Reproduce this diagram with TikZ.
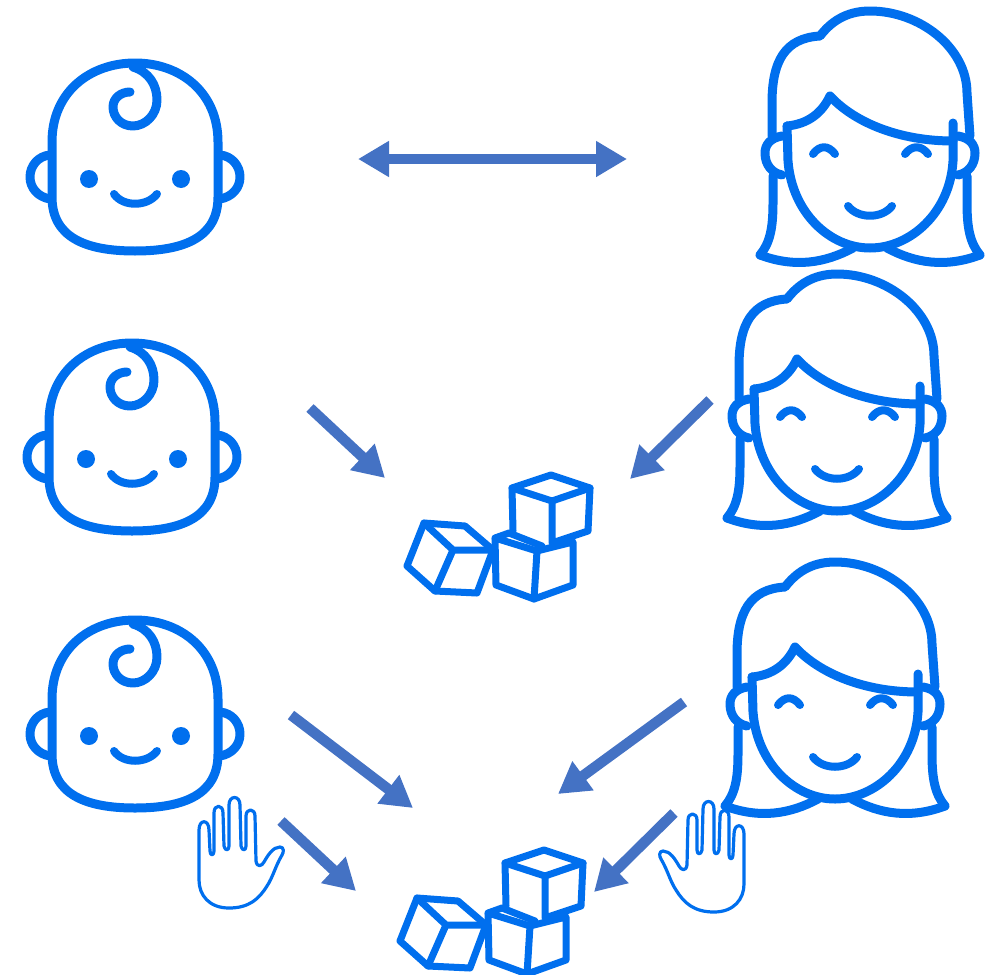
\documentclass[tikz,border=0pt]{standalone}
\usepackage{tikz}
\usetikzlibrary{arrows.meta}
\usepackage{xcolor}
\definecolor{azul}{HTML}{006FEE}
\definecolor{flecha}{HTML}{4472C4}
\tikzset{
  icon/.style={draw=azul,line width=9pt,line cap=round,line join=round},
  thin icon/.style={draw=azul,line width=3.2pt,line cap=round,line join=round},
  cube/.style={draw=azul,line width=7pt,line cap=round,line join=round},
  flow/.style={draw=flecha,line width=10.5pt,-{Triangle[length=31pt,width=34pt,fill=flecha]}},
  twoway/.style={draw=flecha,line width=10pt,{Triangle[length=31pt,width=34pt,fill=flecha]}-{Triangle[length=31pt,width=34pt,fill=flecha]}},
  baby/.pic={
    \draw[icon] (-83,-15) .. controls (-83,-65) and (-45,-94) .. (0,-94)
      .. controls (45,-94) and (83,-65) .. (83,-15) -- (83,40)
      .. controls (83,80) and (50,94) .. (0,94)
      .. controls (-50,94) and (-83,80) .. (-83,40) -- cycle;
    \draw[icon] (-2,-90) .. controls (14,-85) and (22,-72) .. (22,-57)
      .. controls (22,-42) and (10,-31) .. (-2,-31)
      .. controls (-14,-31) and (-22,-40) .. (-22,-50)
      .. controls (-22,-59) and (-14,-65) .. (-5,-65);
    \draw[icon] (-85,-2) .. controls (-97,-1) and (-105,9) .. (-105,20) .. controls (-105,31) and (-97,40) .. (-85,42);
    \draw[icon] (85,-2) .. controls (97,-1) and (105,9) .. (105,20) .. controls (105,31) and (97,40) .. (85,42);
    \fill[azul] (-46,22) circle (9) (46,22) circle (9);
    \draw[icon,line width=8pt] (-21,37) .. controls (-12,50) and (12,50) .. (22,37);
  },
  woman/.pic={
    \draw[icon] (-110,122) .. controls (-100,110) and (-97,95) .. (-97,70) -- (-97,43);
    \draw[icon] (-98,3) -- (-98,-30) .. controls (-98,-72) and (-85,-95) .. (-50,-97)
      .. controls (-40,-110) and (-25,-122) .. (0,-122)
      .. controls (50,-122) and (97,-85) .. (97,-40) -- (100,3);
    \draw[icon] (110,122) .. controls (100,110) and (97,95) .. (97,70) -- (97,43);
    \draw[icon] (-110,122) .. controls (-75,135) and (-45,130) .. (-17,115);
    \draw[icon] (110,122) .. controls (75,135) and (45,130) .. (17,115);
    \draw[icon] (-83,-7) .. controls (-62,-9) and (-48,-20) .. (-40,-37)
      .. controls (-15,-10) and (30,8) .. (83,8);
    \draw[icon] (-83,-7) -- (-82,28) .. controls (-78,80) and (-40,115) .. (0,115)
      .. controls (40,115) and (80,80) .. (83,28) -- (83,-10);
    \draw[icon] (-88,3) .. controls (-100,5) and (-105,12) .. (-105,20) .. controls (-105,32) and (-98,40) .. (-88,42);
    \draw[icon] (88,3) .. controls (100,5) and (105,12) .. (105,20) .. controls (105,32) and (98,40) .. (88,42);
    \draw[icon,line width=8pt] (-57,21) .. controls (-50,12) and (-42,12) .. (-35,21);
    \draw[icon,line width=8pt] (35,21) .. controls (42,12) and (51,12) .. (58,21);
    \draw[icon,line width=8pt] (-22,73) .. controls (-12,86) and (12,86) .. (22,73);
  },
  blocks/.pic={
    % upper cube
    \draw[cube] (12,-45) -- (51,-58) -- (90,-45) -- (52,-32) -- cycle;
    \draw[cube] (12,-45) -- (13,-2) (90,-45) -- (88,-2) -- (52,10) -- (52,-32);
    % lower cube
    \draw[cube] (-5,5) -- (37,18) -- (73,9) -- (73,52) -- (34,66) -- (-4,52) -- cycle;
    \draw[cube] (37,18) -- (34,66) (-5,5) -- (9,0) -- (42,13);
    % tilted cube
    \draw[cube] (-76,-10) -- (-35,-7) -- (-7,17) -- (-23,60) -- (-65,58) -- (-93,33) -- cycle;
    \draw[cube] (-76,-10) -- (-47,17) -- (-7,17) (-47,17) -- (-65,58);
  },
  hand/.pic={
    \draw[thin icon] (-38,27) -- (-38,-23) .. controls (-38,-34) and (-28,-34) .. (-28,-23)
      -- (-27,-2) .. controls (-27,3) and (-23,3) .. (-23,-2)
      -- (-23,-40) .. controls (-23,-49) and (-14,-49) .. (-14,-40)
      -- (-13,-7) .. controls (-12,-2) and (-8,-2) .. (-8,-7)
      -- (-8,-48) .. controls (-8,-58) and (3,-58) .. (3,-48)
      -- (4,-7) .. controls (5,-2) and (9,-2) .. (9,-7)
      -- (9,-37) .. controls (9,-45) and (18,-45) .. (18,-37)
      -- (19,8) .. controls (20,15) and (25,13) .. (27,9)
      .. controls (31,2) and (36,-6) .. (43,-6)
      .. controls (47,-6) and (47,-1) .. (45,2)
      .. controls (38,14) and (36,24) .. (30,33)
      .. controls (22,46) and (12,55) .. (-8,55)
      .. controls (-28,55) and (-38,42) .. (-38,27) -- cycle;
  }
}
\begin{document}
\begin{tikzpicture}[x=1pt,y=-1pt]
    \useasboundingbox (0,0) rectangle (1003,974);
    \pic (babytop) at (135,157) {baby};
    \pic (babymid) at (132,437) {baby};
    \pic (babylow) at (135,714) {baby};
    \pic (womantop) at (870,133) {woman};
    \pic (womanmid) at (837,396) {woman};
    \pic (womanlow) at (835,684) {woman};
    \pic (blocksmid) at (500,533) {blocks};
    \pic (blockslow) at (493,908) {blocks};
    \pic (handleft) at (237,853) {hand};
    \pic[xscale=-1] (handright) at (706,857) {hand};
    \coordinate (talkbaby) at (358,159);
    \coordinate (talkwoman) at (627,159);
    \coordinate (lookbaby) at (310,408);
    \coordinate (lookbabyend) at (385,478);
    \coordinate (lookwoman) at (710,400);
    \coordinate (lookwomanend) at (630,479);
    \coordinate (seebaby) at (291,715);
    \coordinate (seebabyend) at (413,808);
    \coordinate (seewoman) at (684,702);
    \coordinate (seewomanend) at (558,794);
    \coordinate (touchbaby) at (281,821);
    \coordinate (touchbabyend) at (356,891);
    \coordinate (touchwoman) at (674,813);
    \coordinate (touchwomanend) at (594,892);
    \draw[twoway] (talkbaby) -- (talkwoman);
    \draw[flow] (lookbaby) -- (lookbabyend);
    \draw[flow] (lookwoman) -- (lookwomanend);
    \draw[flow] (seebaby) -- (seebabyend);
    \draw[flow] (seewoman) -- (seewomanend);
    \draw[flow] (touchbaby) -- (touchbabyend);
    \draw[flow] (touchwoman) -- (touchwomanend);
  \end{tikzpicture}
\end{document}
